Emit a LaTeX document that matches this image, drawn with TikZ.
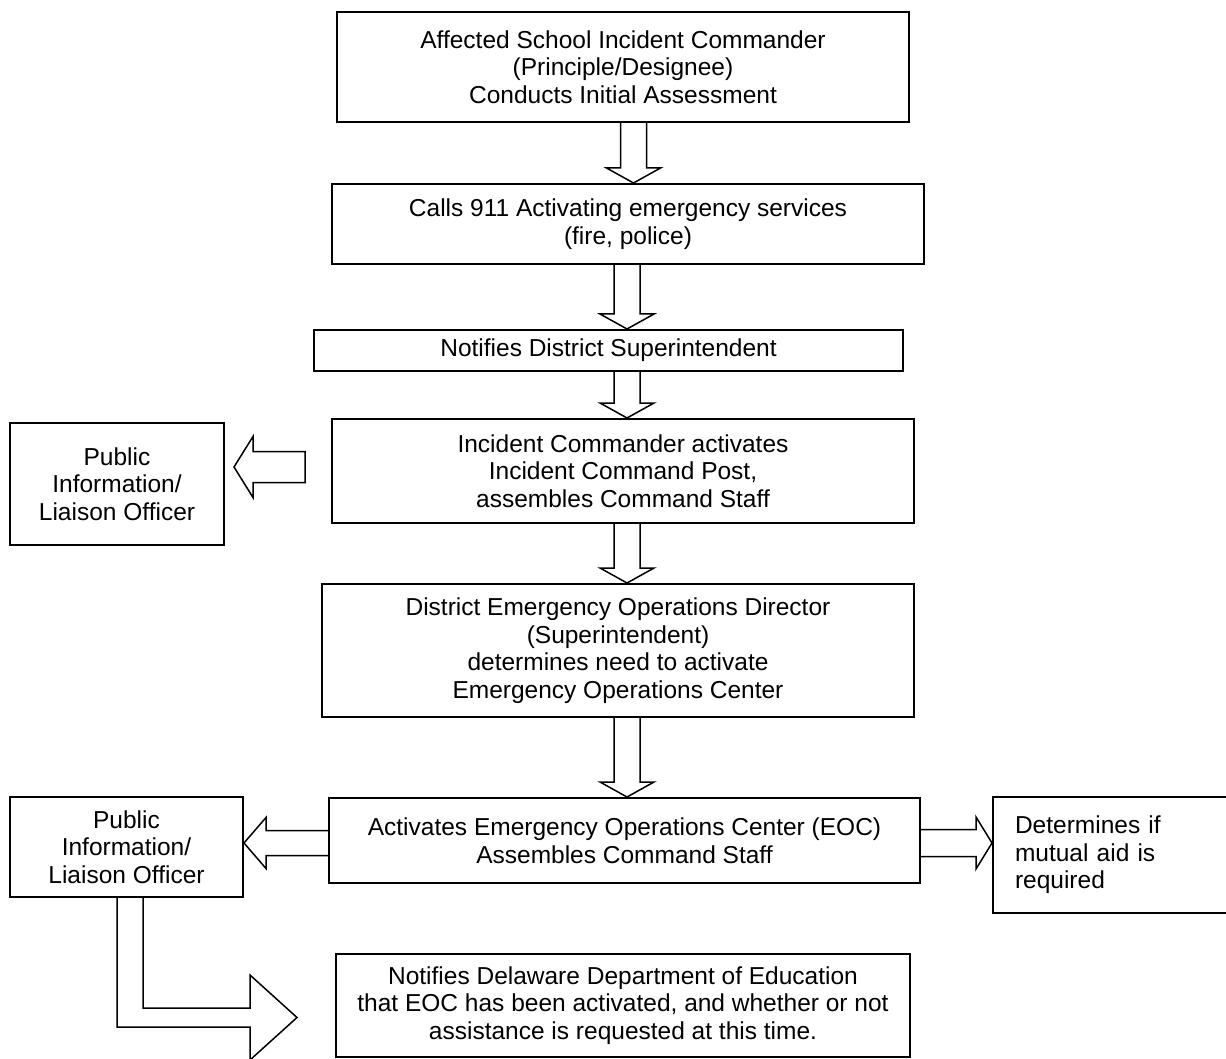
\documentclass[tikz,border=0pt]{standalone}
\usepackage{fontspec}
\setmainfont{Liberation Sans}
\usetikzlibrary{calc}

\tikzset{
  box/.style={draw, line width=1pt, align=center, inner sep=0pt,
    font=\fontsize{12.25}{13.75}\selectfont},
  fat/.style={draw, line width=0.75pt, line join=miter},
}

\newcommand{\fatdown}[3]{%
  \draw[fat] let \p1=(#3,0), \p2=(#1.south), \p3=(#2.north) in
    (\x1-6.5pt,\y2) -- (\x1-6.5pt,\y3+7.5pt) -- (\x1-13.5pt,\y3+7.5pt) -- (\x1,\y3)
    -- (\x1+13.5pt,\y3+7.5pt) -- (\x1+6.5pt,\y3+7.5pt) -- (\x1+6.5pt,\y2);}

\newcommand{\fatside}[6][]{%
  \draw[fat] let \p1=(#2), \p2=(#3), \p3=($(\x2,\y1)!#6!(\x1,\y1)$) in
    (\x1,\y1+#4) -- (\x3,\y1+#4) -- (\x3,\y1+#5) -- (\x2,\y1)
    -- (\x3,\y1-#5) -- (\x3,\y1-#4) -- (\x1,\y1-#4) #1;}

\begin{document}
\begin{tikzpicture}[x=0.5pt, y=-0.5pt]
    \useasboundingbox (0,0) rectangle (1226,1059);

    \node[box, minimum width=286pt, minimum height=55pt] (assess) at (623,67)
        {Affected School Incident Commander\\(Principle/Designee)\\Conducts Initial Assessment};
    \node[box, minimum width=296pt, minimum height=40pt] (calls) at (628,224)
        {Calls 911 Activating emergency services\\(fire, police)};
    \node[box, minimum width=294.5pt, minimum height=20.5pt] (notify) at (608.5,350.5)
        {Notifies District Superintendent};
    \node[box, minimum width=291pt, minimum height=52pt] (post) at (623,471)
        {Incident Commander activates\\Incident Command Post,\\assembles Command Staff};
    \node[box, minimum width=296pt, minimum height=66.5pt] (director) at (618,650.5)
        {District Emergency Operations Director\\(Superintendent)\\determines need to activate\\Emergency Operations Center};
    \node[box, minimum width=295.5pt, minimum height=42.5pt] (eoc) at (624.5,840.5)
        {Activates Emergency Operations Center (EOC)\\Assembles Command Staff};
    \node[box, minimum width=287pt, minimum height=51.5pt] (doe) at (623,1005.5)
        {Notifies Delaware Department of Education\\that EOC has been activated, and whether or not\\assistance is requested at this time.};

    \node[box, minimum width=107pt, minimum height=61pt] (piotop) at (117,484)
        {Public\\Information/\\Liaison Officer};
    \node[box, minimum width=116.5pt, minimum height=50pt] (piolow) at (126.5,847)
        {Public\\Information/\\Liaison Officer};
    \node[box, align=left, text width=96.5pt, inner xsep=11pt, minimum height=58pt] (aid) at (1111.5,855)
        {Determines if\\mutual aid is\\required};

    \fatdown{assess}{calls}{633.5}
    \fatdown{calls}{notify}{627}
    \fatdown{notify}{post}{627}
    \fatdown{post}{director}{627}
    \fatdown{director}{eoc}{627}

    \fatside[-- cycle]{$(post.west)+(-26,-4)$}{$(piotop.east)+(9,0)$}{7.75pt}{15.25pt}{9.5pt}
    \fatside{$(eoc.west)+(0,2.5)$}{piolow.east}{6.25pt}{12.75pt}{11pt}
    \fatside{$(eoc.east)+(0,2.5)$}{aid.west}{6.75pt}{13pt}{8pt}

    \draw[fat] ($(piolow.south)+(-9.5,0)$) |- (250,1027) -- (250,1060) -- (297,1017.5)
        -- (250,975) -- (250,1008) -| ($(piolow.south)+(16.5,0)$);
\end{tikzpicture}
\end{document}
